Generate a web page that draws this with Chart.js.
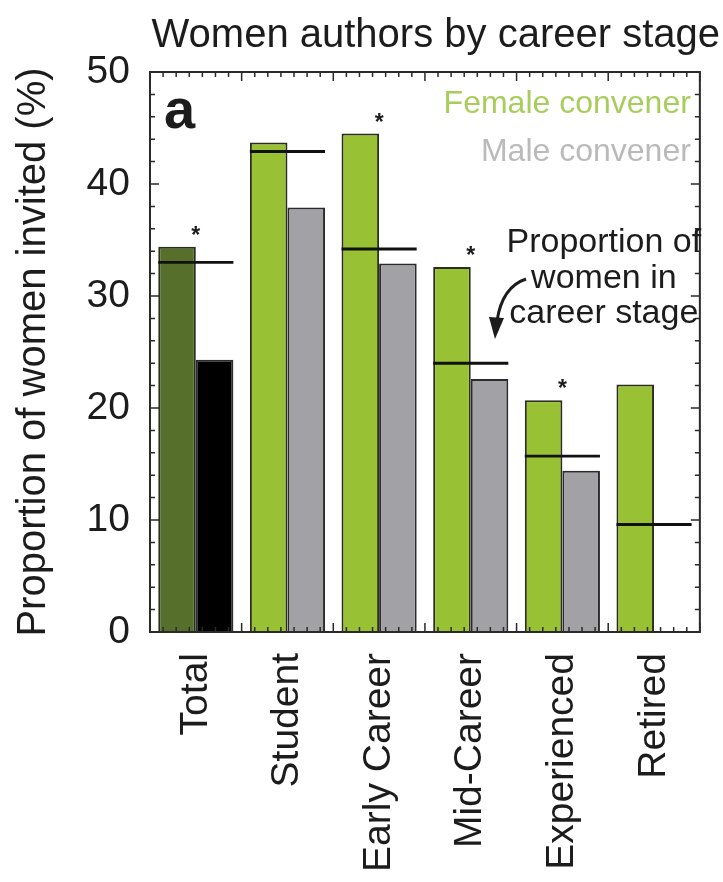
<!DOCTYPE html>
<html>
<head>
<meta charset="utf-8">
<title>Women authors by career stage</title>
<script src="https://cdn.jsdelivr.net/npm/chart.js@4.4.1/dist/chart.umd.min.js"></script>
<style>
    html, body { margin: 0; padding: 0; background: #ffffff; }
    #wrap { width: 723px; height: 882px; }
</style>
</head>
<body>
<div id="wrap"><canvas id="stageChart" width="723" height="882"></canvas></div>
<script>
// --- 1. Data ---
const categories = ['Total', 'Student', 'Early Career', 'Mid-Career', 'Experienced', 'Retired'];
const femaleConvener = [34.4, 43.7, 44.5, 32.6, 20.7, 22.1];
const maleConvener = [24.3, 37.9, 32.9, 22.6, 14.4, null];
const womenInStage = [33.0, 42.9, 34.2, 24.0, 15.7, 9.6];
const significant = [true, false, true, true, true, false];
const yTicks = [0, 10, 20, 30, 40, 50];

// --- 2. Colours ---
const FEMALE_COLORS = ['#56702c', '#98c234', '#98c234', '#98c234', '#98c234', '#98c234'];
const MALE_COLORS = ['#000000', '#a2a2a6', '#a2a2a6', '#a2a2a6', '#a2a2a6', '#a2a2a6'];
const TEXT = '#1c1c1c';
const FONT = "'Liberation Sans', Arial, sans-serif";

// --- 3. Decorations: frame, inward ticks, labels, arrow ---
const decorations = {
    id: 'decorations',
    afterDraw(chart) {
        const ctx = chart.ctx;
        const { left, right, top, bottom } = chart.chartArea;
        const y = chart.scales.y;

        ctx.save();
        ctx.strokeStyle = '#2a2a2a';

        // minor/major ticks pointing inside the frame
        ctx.lineWidth = 1.5;
        for (let v = 0; v <= 50; v += 2) {
            const py = y.getPixelForValue(v);
            const len = v % 10 === 0 ? 9 : 5;
            ctx.beginPath();
            ctx.moveTo(left, py); ctx.lineTo(left + len, py);
            ctx.moveTo(right, py); ctx.lineTo(right - len, py);
            ctx.stroke();
        }
        const catW = (right - left) / categories.length;
        for (let i = 0; i <= categories.length * 7; i++) {
            const px = left + i * catW / 7;
            const len = i % 7 === 0 ? 9 : 5;
            ctx.beginPath();
            ctx.moveTo(px, bottom); ctx.lineTo(px, bottom - len);
            ctx.moveTo(px, top); ctx.lineTo(px, top + len);
            ctx.stroke();
        }

        // frame
        ctx.lineWidth = 2;
        ctx.strokeRect(left, top, right - left, bottom - top);

        // panel letter
        ctx.fillStyle = TEXT;
        ctx.font = `bold 56px ${FONT}`;
        ctx.textAlign = 'left';
        ctx.textBaseline = 'alphabetic';
        ctx.fillText('a', left + 14, top + 56);

        // legend text
        ctx.textAlign = 'right';
        ctx.font = `32px ${FONT}`;
        ctx.fillStyle = '#a9cd5c';
        ctx.fillText('Female convener', right - 9, top + 41);
        ctx.fillStyle = '#bababa';
        ctx.fillText('Male convener', right - 9, top + 89);

        // asterisks over the significant female bars
        const femaleMeta = chart.getDatasetMeta(1);
        ctx.fillStyle = TEXT;
        ctx.font = `bold 23px ${FONT}`;
        ctx.textAlign = 'center';
        significant.forEach((flag, i) => {
            if (!flag) return;
            const bar = femaleMeta.data[i];
            ctx.fillText('*', bar.x + bar.width / 2, bar.y - 4);
        });

        // annotation
        ctx.fillStyle = TEXT;
        ctx.font = `34px ${FONT}`;
        ctx.textAlign = 'center';
        ctx.textBaseline = 'middle';
        const ax = right - 96;
        ctx.fillText('Proportion of', ax, top + 171);
        ctx.fillText('women in', ax, top + 207);
        ctx.fillText('career stage', ax, top + 242);

        // curved arrow
        ctx.lineWidth = 3;
        ctx.strokeStyle = TEXT;
        ctx.beginPath();
        ctx.moveTo(left + 376, top + 207);
        ctx.quadraticCurveTo(left + 352, top + 215, left + 347, top + 249);
        ctx.stroke();
        ctx.beginPath();
        ctx.moveTo(left + 339, top + 245);
        ctx.lineTo(left + 354, top + 246);
        ctx.lineTo(left + 345, top + 267);
        ctx.closePath();
        ctx.fill();

        ctx.restore();
    }
};

// --- 4. Chart ---
document.addEventListener('DOMContentLoaded', () => {
    const ctx = document.getElementById('stageChart').getContext('2d');

    new Chart(ctx, {
        type: 'bar',
        data: {
            labels: categories,
            datasets: [
                {
                    label: 'Proportion of women in career stage',
                    data: womenInStage.map(v => [v - 0.13, v + 0.13]),
                    backgroundColor: '#111111',
                    borderWidth: 0,
                    grouped: false,
                    order: -1
                },
                {
                    label: 'Female convener',
                    data: femaleConvener,
                    backgroundColor: FEMALE_COLORS,
                    borderColor: '#2b2e1c',
                    borderWidth: 2
                },
                {
                    label: 'Male convener',
                    data: maleConvener,
                    backgroundColor: MALE_COLORS,
                    borderColor: '#2b2b2b',
                    borderWidth: 2
                }
            ]
        },
        options: {
            responsive: false,
            animation: false,
            devicePixelRatio: 1,
            categoryPercentage: 0.82,
            barPercentage: 1.0,
            layout: { padding: { left: 0, right: 3, top: 0, bottom: 0 } },
            scales: {
                x: {
                    grid: { display: false, drawTicks: false },
                    border: { display: false },
                    ticks: {
                        color: TEXT,
                        font: { family: FONT, size: 39 },
                        minRotation: 90,
                        maxRotation: 90,
                        padding: 21,
                        autoSkip: false
                    },
                    afterFit: (scale) => { scale.height = 250; }
                },
                y: {
                    min: 0,
                    max: 50,
                    grid: { display: false, drawTicks: false },
                    border: { display: false },
                    afterBuildTicks: (scale) => { scale.ticks = yTicks.map(v => ({ value: v })); },
                    ticks: {
                        color: TEXT,
                        font: { family: FONT, size: 39 },
                        padding: 20
                    },
                    title: {
                        display: true,
                        text: 'Proportion of women invited (%)',
                        color: TEXT,
                        font: { family: FONT, size: 40 },
                        padding: { top: 10, bottom: 0 }
                    },
                    afterFit: (scale) => { scale.width = 150; }
                },
                yRight: {
                    position: 'right',
                    min: 0,
                    max: 50,
                    grid: { display: false, drawTicks: false },
                    border: { display: false },
                    ticks: { display: false },
                    afterFit: (scale) => { scale.width = 11; }
                }
            },
            plugins: {
                legend: { display: false },
                tooltip: { enabled: false },
                title: {
                    display: true,
                    text: 'Women authors by career stage',
                    align: 'end',
                    color: TEXT,
                    font: { family: FONT, size: 40, weight: 'normal' },
                    padding: { top: 12, bottom: 12 }
                }
            }
        },
        plugins: [decorations]
    });
});
</script>
</body>
</html>
